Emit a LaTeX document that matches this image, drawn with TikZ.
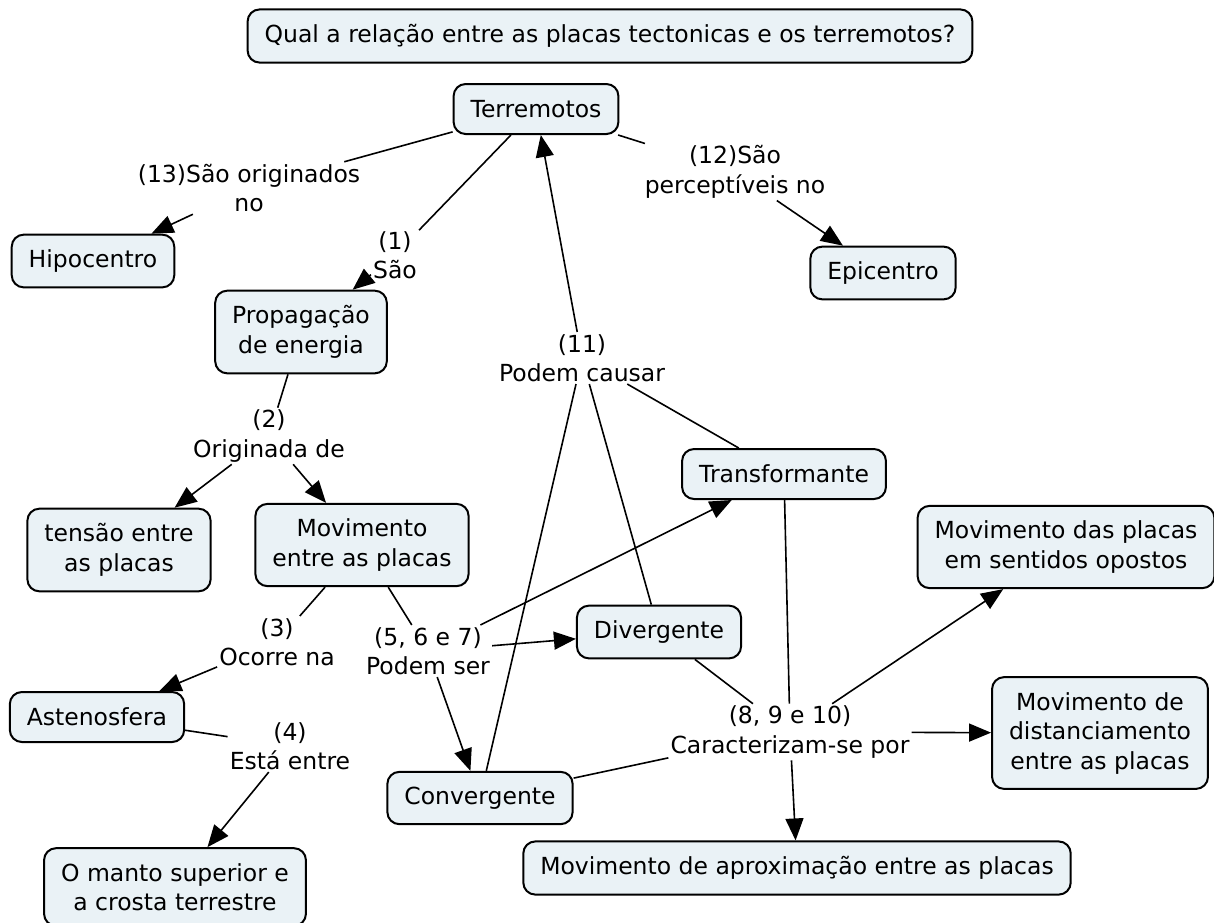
\documentclass[tikz,border=0pt]{standalone}
\usepackage{fontspec}
\setmainfont{DejaVu Sans}
\usepackage{tikz}
\usetikzlibrary{arrows.meta}
\definecolor{conceptfill}{RGB}{234,242,246}

\begin{document}
\begin{tikzpicture}[x=1pt,y=-1pt,
    font=\fontsize{23.5}{29.5}\selectfont,
    concept/.style={draw,line width=2pt,rounded corners=12pt,fill=conceptfill,
      align=center,inner xsep=17pt,inner ysep=15pt,minimum height=50pt},
    phrase/.style={align=center,inner sep=2pt},
    link/.style={line width=1.6pt},
    arr/.style={line width=1.6pt,-{Triangle[length=22pt,width=18pt]}}]
          \clip (0,0) rectangle (1214,922);
          % concepts
          \node[concept] (pergunta) at (610,36) {Qual a relação entre as placas tectonicas e os terremotos?};
          \node[concept] (terremotos) at (536,109) {Terremotos};
          \node[concept] (hipocentro) at (93,261) {Hipocentro};
          \node[concept] (epicentro) at (883,273) {Epicentro};
          \node[concept] (propagacao) at (301,332) {Propagação\\de energia};
          \node[concept] (tensao) at (119,550) {tensão entre\\as placas};
          \node[concept] (movimento) at (362,545) {Movimento\\entre as placas};
          \node[concept] (astenosfera) at (97,717) {Astenosfera};
          \node[concept] (manto) at (175,887) {O manto superior e\\a crosta terrestre};
          \node[concept] (transformante) at (784,474) {Transformante};
          \node[concept] (opostos) at (1066,547) {Movimento das placas\\em sentidos opostos};
          \node[concept] (divergente) at (659,632) {Divergente};
          \node[concept] (convergente) at (480,798) {Convergente};
          \node[concept] (distanciamento) at (1100,733) {Movimento de\\distanciamento\\entre as placas};
          \node[concept] (aproximacao) at (797,868) {Movimento de aproximação entre as placas};
          % linking phrases
          \node[phrase] (originados) at (249,188) {(13)São originados\\no};
          \node[phrase] (perceptiveis) at (735,172) {(12)São\\perceptíveis no};
          \node[phrase] (sao) at (395,255) {(1)\\São};
          \node[phrase] (causar) at (582,358) {(11)\\Podem causar};
          \node[phrase] (originada) at (269,436) {(2)\\Originada de};
          \node[phrase] (ocorre) at (277,642) {(3)\\Ocorre na};
          \node[phrase] (podemser) at (428,651) {(5, 6 e 7)\\Podem ser};
          \node[phrase] (esta) at (290,746) {(4)\\Está entre};
          \node[phrase] (caracterizam) at (790,732) {(8, 9 e 10)\\Caracterizam-se por};
          % connections
          \draw[link] (terremotos) -- (originados);
          \draw[arr] (originados) -- (hipocentro);
          \draw[link] (terremotos) -- (sao);
          \draw[arr] (sao) -- (propagacao);
          \draw[link] (terremotos) -- (perceptiveis);
          \draw[arr] (perceptiveis) -- (epicentro);
          \draw[link] (propagacao) -- (originada);
          \draw[arr] (originada) -- (tensao);
          \draw[arr] (originada) -- (movimento);
          \draw[link] (movimento) -- (ocorre);
          \draw[arr] (ocorre) -- (astenosfera);
          \draw[link] (astenosfera) -- (esta);
          \draw[arr] (esta) -- (manto);
          \draw[link] (movimento) -- (podemser);
          \foreach \t in {transformante,divergente,convergente}
            \draw[arr] (podemser) -- (\t);
          \foreach \s in {convergente,divergente,transformante}
            \draw[link] (\s) -- (causar);
          \draw[arr] (causar) -- (terremotos);
          \foreach \s in {divergente,transformante,convergente}
            \draw[link] (\s) -- (caracterizam);
          \foreach \t in {opostos,distanciamento,aproximacao}
            \draw[arr] (caracterizam) -- (\t);
        \end{tikzpicture}
\end{document}
